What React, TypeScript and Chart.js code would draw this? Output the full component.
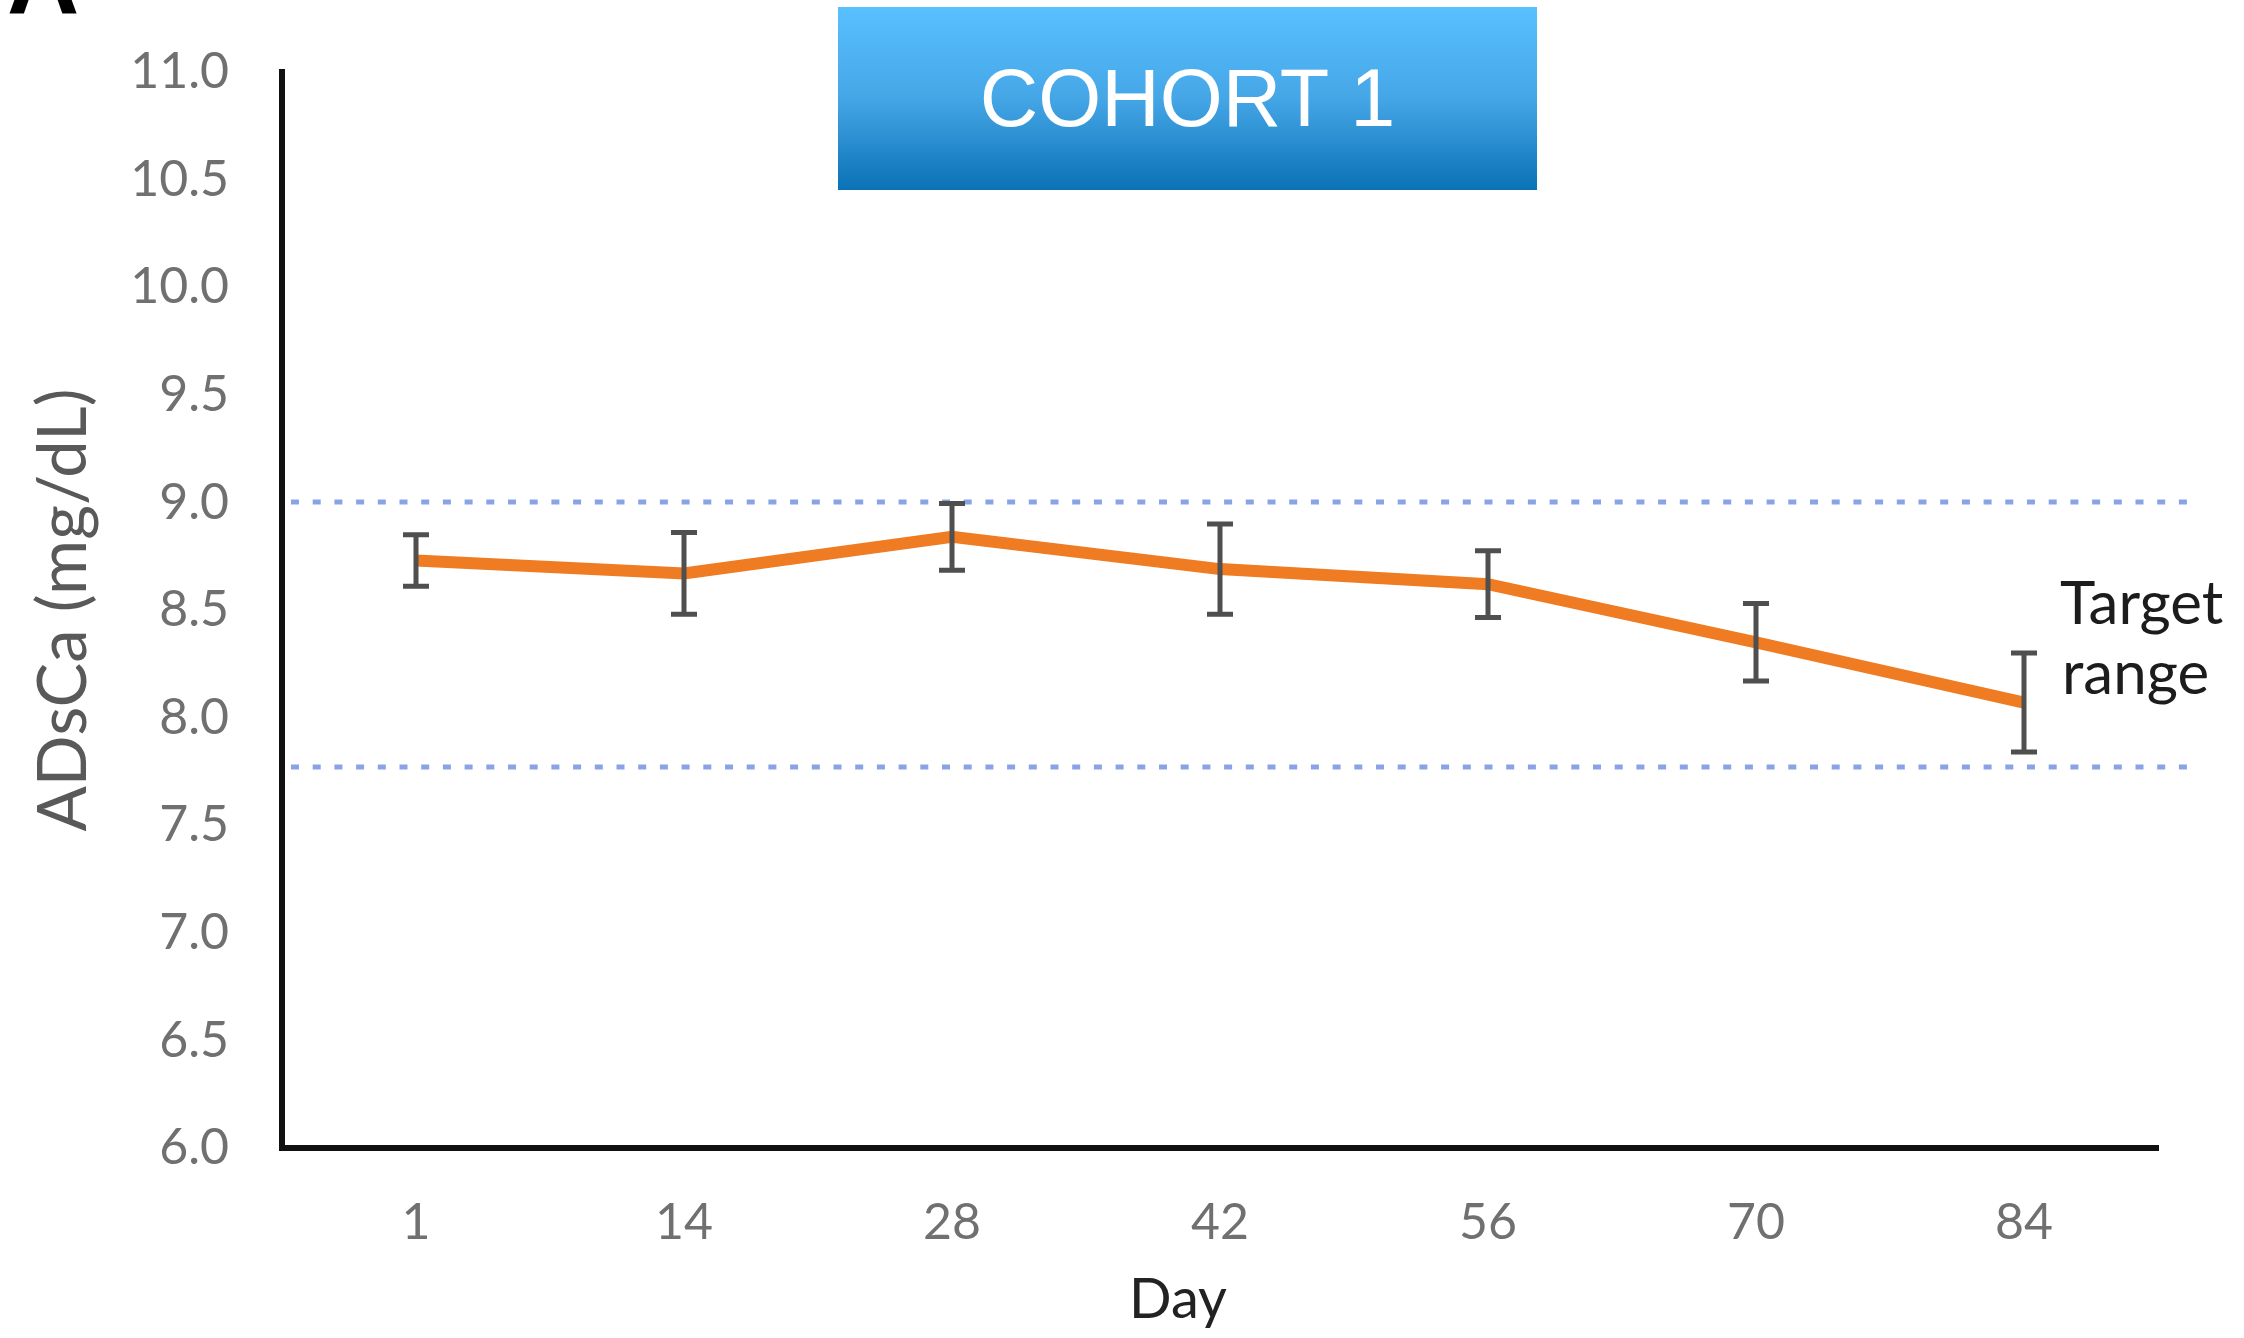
import React, { useEffect, useRef } from 'react';
import { Chart, registerables } from 'chart.js';

Chart.register(...registerables);

// ---- data ----
const days = ['1', '14', '28', '42', '56', '70', '84'];
const meanCa = [8.73, 8.67, 8.84, 8.69, 8.62, 8.35, 8.07];
const errCa = [0.12, 0.19, 0.155, 0.21, 0.155, 0.18, 0.23];
const targetRange = [7.77, 9.0];
const yMin = 6.0;
const yMax = 11.0;
const yStep = 0.5;
const panelLabel = 'A';
const cohortTitle = 'COHORT 1';
const xTitle = 'Day';
const yTitle = 'ADsCa (mg/dL)';
const targetLabel = ['Target', 'range'];

const W = 2244;
const H = 1338;

const targetLinesPlugin = {
  id: 'targetLines',
  beforeDatasetsDraw(chart: any) {
    const { ctx, chartArea, scales } = chart;
    const y = scales.y;
    ctx.save();
    ctx.strokeStyle = '#89a3e4';
    ctx.lineWidth = 5;
    ctx.setLineDash([8, 13.7]);
    for (const v of targetRange) {
      const py = Math.round(y.getPixelForValue(v));
      ctx.beginPath();
      ctx.moveTo(chartArea.left + 9, py);
      ctx.lineTo(chartArea.right + 42, py);
      ctx.stroke();
    }
    ctx.restore();
  },
};

const errorBarsPlugin = {
  id: 'errorBars',
  afterDatasetsDraw(chart: any) {
    const { ctx, scales } = chart;
    const x = scales.x;
    const y = scales.y;
    ctx.save();
    ctx.strokeStyle = '#4f4f4f';
    ctx.lineWidth = 5;
    const cap = 13;
    meanCa.forEach((m, i) => {
      const px = x.getPixelForValue(i);
      const top = y.getPixelForValue(m + errCa[i]);
      const bot = y.getPixelForValue(m - errCa[i]);
      ctx.beginPath();
      ctx.moveTo(px, top);
      ctx.lineTo(px, bot);
      ctx.moveTo(px - cap, top);
      ctx.lineTo(px + cap, top);
      ctx.moveTo(px - cap, bot);
      ctx.lineTo(px + cap, bot);
      ctx.stroke();
    });
    ctx.restore();
  },
};

const textPlugin = {
  id: 'extraText',
  afterDraw(chart: any) {
    const { ctx, scales } = chart;
    const y = scales.y;
    ctx.save();
    // panel letter (cut off at the top)
    ctx.fillStyle = '#000';
    ctx.font = 'bold 100px "Liberation Sans"';
    ctx.textAlign = 'left';
    ctx.textBaseline = 'alphabetic';
    ctx.fillText(panelLabel, 7, 14);
    // x title
    ctx.fillStyle = '#222';
    ctx.font = '56px Lato';
    ctx.textAlign = 'center';
    ctx.fillText(xTitle, 1178, 1318);
    // target range label
    ctx.fillStyle = '#1c1c1c';
    ctx.font = '60px Lato';
    ctx.textAlign = 'left';
    const mid = (y.getPixelForValue(targetRange[0]) + y.getPixelForValue(targetRange[1])) / 2;
    ctx.fillText(targetLabel[0], 2060, mid - 11);
    ctx.fillText(targetLabel[1], 2062, mid + 59);
    ctx.restore();
  },
};

export default function App() {
  const ref = useRef<HTMLCanvasElement | null>(null);

  useEffect(() => {
    if (!ref.current) return;
    const chart = new Chart(ref.current, {
      type: 'line',
      data: {
        labels: days,
        datasets: [
          {
            label: 'ADsCa',
            data: meanCa,
            borderColor: '#ef7b22',
            backgroundColor: '#ef7b22',
            borderWidth: 12,
            pointRadius: 0,
            pointHoverRadius: 0,
            tension: 0,
            fill: false,
          },
        ],
      },
      options: {
        responsive: false,
        animation: false,
        devicePixelRatio: 1,
        layout: { padding: { left: 0, top: 72, right: 86, bottom: 0 } },
        plugins: {
          legend: { display: false },
          tooltip: { enabled: false },
        },
        scales: {
          x: {
            type: 'category',
            offset: true,
            grid: { display: false, drawTicks: false },
            border: { display: true, color: '#111', width: 6 },
            ticks: {
              font: { family: 'Lato', size: 50 },
              color: '#707070',
              padding: 45,
              maxRotation: 0,
            },
            afterFit: (s: any) => {
              s.height = H - 1148;
              s.paddingLeft = 0;
              s.paddingRight = 0;
            },
          },
          y: {
            min: yMin,
            max: yMax,
            grid: { display: false, drawTicks: false },
            border: { display: true, color: '#111', width: 6 },
            ticks: {
              stepSize: yStep,
              font: { family: 'Lato', size: 50 },
              color: '#707070',
              padding: 53,
              callback: (v: any) => Number(v).toFixed(1),
            },
            title: {
              display: true,
              text: yTitle,
              font: { family: 'Lato', size: 67 },
              color: '#595959',
              padding: { top: 24, bottom: 0 },
            },
            afterFit: (s: any) => {
              s.width = 282;
              s.paddingTop = 0;
              s.paddingBottom = 0;
            },
          },
        },
      },
      plugins: [targetLinesPlugin, errorBarsPlugin, textPlugin],
    } as any);
    return () => chart.destroy();
  }, []);

  return (
    <div style={{ position: 'absolute', left: 0, top: 0, width: W, height: H, background: '#fff' }}>
      <canvas ref={ref} width={W} height={H} style={{ display: 'block', width: W, height: H }} />
      <div
        style={{
          position: 'absolute',
          left: 838,
          top: 7,
          width: 699,
          height: 183,
          background: 'linear-gradient(to bottom, #59c0ff 0%, #45a6e6 50%, #0a72b6 100%)',
          color: '#fff',
          fontFamily: '"Liberation Sans", Arial, sans-serif',
          fontSize: 81,
          display: 'flex',
          alignItems: 'center',
          justifyContent: 'center',
          lineHeight: 1,
        }}
      >
        {cohortTitle}
      </div>
    </div>
  );
}
